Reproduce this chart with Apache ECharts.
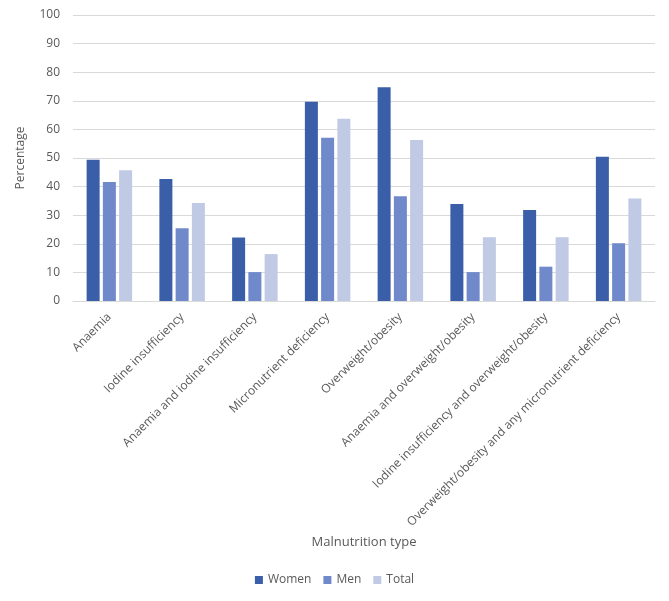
<!DOCTYPE html>
<html>
<head>
<meta charset="utf-8">
<script src="https://cdn.jsdelivr.net/npm/echarts@6/dist/echarts.min.js"></script>
<style>
  html, body { margin: 0; padding: 0; background: #fff; }
  #chart { width: 669px; height: 601px; }
</style>
</head>
<body>
<div id="chart"></div>
<script>
// 数据
const categories = [
  'Anaemia',
  'Iodine insufficiency',
  'Anaemia and iodine insufficiency',
  'Micronutrient deficiency',
  'Overweight/obesity',
  'Anaemia and overweight/obesity',
  'Iodine insufficiency and overweight/obesity',
  'Overweight/obesity and any micronutrient deficiency'
];
const women = [49.4, 42.7, 22.2, 69.7, 74.7, 33.9, 31.8, 50.4];
const men = [41.6, 25.4, 10.1, 57.1, 36.6, 10.1, 12.0, 20.2];
const total = [45.7, 34.3, 16.4, 63.7, 56.3, 22.3, 22.3, 35.8];
const yTicks = [0, 10, 20, 30, 40, 50, 60, 70, 80, 90, 100];

const textColor = '#595959';
const font = '"Open Sans", "Noto Sans", sans-serif';

let myChart = echarts.init(document.getElementById('chart'));

function bar(name, data, color) {
  return {
    name: name,
    type: 'bar',
    data: data,
    barWidth: 13,
    barGap: '25%',
    itemStyle: { color: color }
  };
}

let options = {
  animation: false,
  textStyle: { fontFamily: font },
  grid: {
    left: 73,
    right: 14,
    top: 15,
    bottom: 300
  },
  legend: {
    bottom: 10,
    left: 'center',
    itemWidth: 8,
    itemHeight: 8,
    itemGap: 12,
    icon: 'rect',
    textStyle: { color: textColor, fontSize: 12, fontFamily: font },
    data: ['Women', 'Men', 'Total']
  },
  xAxis: {
    type: 'category',
    data: categories,
    name: 'Malnutrition type',
    nameLocation: 'middle',
    nameGap: 235,
    nameTextStyle: { color: textColor, fontSize: 13, fontFamily: font },
    axisLine: { lineStyle: { color: '#d9d9d9' } },
    axisTick: { show: false },
    axisLabel: {
      interval: 0,
      rotate: 45,
      color: textColor,
      fontSize: 12,
      margin: 14,
      fontFamily: font
    }
  },
  yAxis: {
    type: 'value',
    min: yTicks[0],
    max: yTicks[yTicks.length - 1],
    interval: 10,
    name: 'Percentage',
    nameLocation: 'middle',
    nameGap: 46,
    nameTextStyle: { color: textColor, fontSize: 12, fontFamily: font },
    axisLine: { show: false },
    axisTick: { show: false },
    axisLabel: { color: textColor, fontSize: 12, margin: 13, fontFamily: font },
    splitLine: { lineStyle: { color: '#d9d9d9' } }
  },
  series: [
    bar('Women', women, '#3a5ea8'),
    bar('Men', men, '#7089cb'),
    bar('Total', total, '#c0cae5')
  ]
};

myChart.setOption(options, true);
</script>
</body>
</html>
